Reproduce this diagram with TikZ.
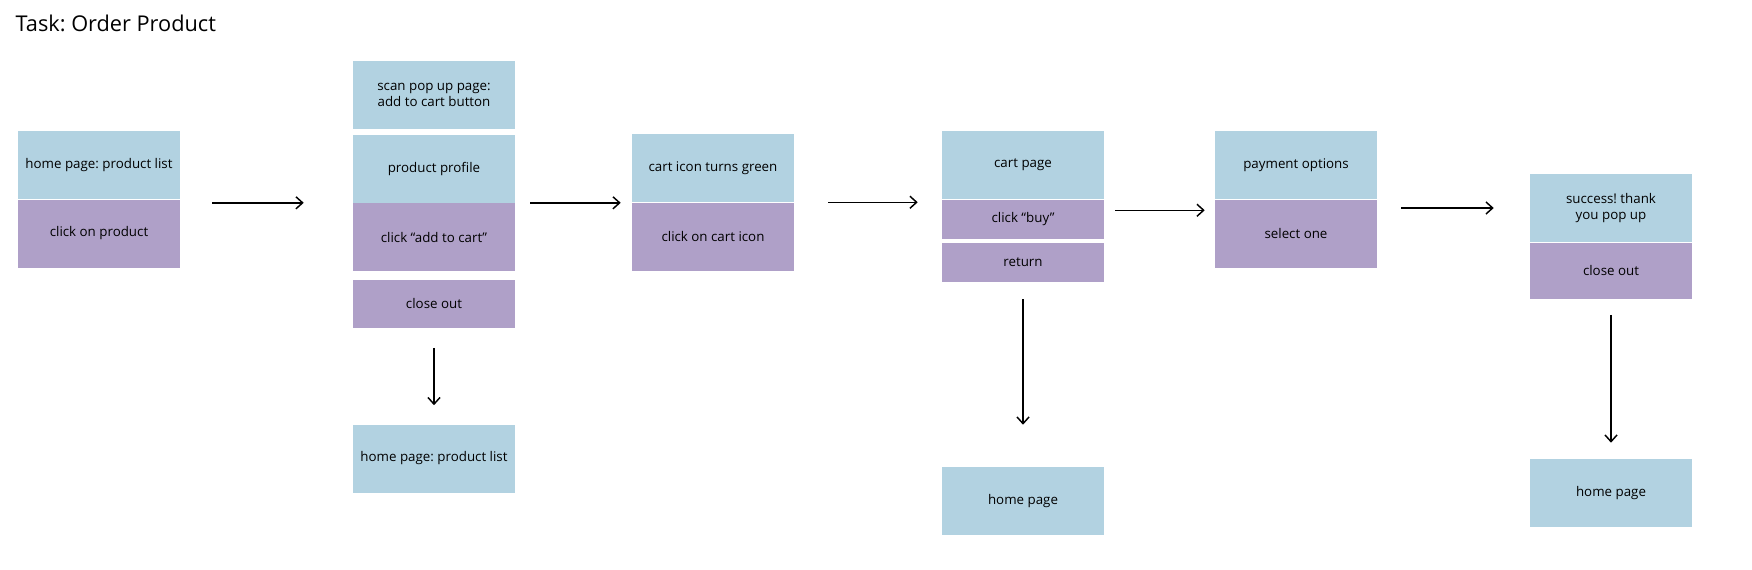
\documentclass[tikz,border=0pt]{standalone}
\usepackage{fontspec}
\setmainfont{Open Sans}
\usepackage{tikz}
\usetikzlibrary{positioning,arrows.meta}
\definecolor{pageblue}{HTML}{B2D2E1}
\definecolor{actionpurple}{HTML}{AFA0C8}
\tikzset{
  screen/.style={fill=pageblue, minimum width=121.5pt, minimum height=51pt, inner sep=0pt, align=center, font=\fontsize{10}{12.5}\selectfont},
  action/.style={screen, fill=actionpurple},
  flow/.style={-{Straight Barb[length=5pt,width=9pt]}, line width=1.1pt},
}
\frenchspacing

\begin{document}
\begin{tikzpicture}[x=0.75pt, y=-0.75pt]
\useasboundingbox (0,0) rectangle (1752,570);
\node[anchor=west, font=\fontsize{16.3}{19}\selectfont] (title) at (11,23) {Task: Order Product};

\node[screen] (home1) at (99,165) {home page: product list};
\node[action, below=0pt of home1] (click1) {click on product};

\node[screen] (scan) at (434,95) {scan pop up page:\\add to cart button};
\node[screen, below=3.75pt of scan] (profile) {product profile};
\node[action, below=0pt of profile] (addcart) {click “add to cart”};
\node[action, below=6pt of addcart, minimum height=36pt] (close2) {close out};
\node[screen] (home2) at (434,458.5) {home page: product list};

\node[screen] (icon) at (713,168) {cart icon turns green};
\node[action, below=0pt of icon] (iconclick) {click on cart icon};

\node[screen] (cartpage) at (1023,165) {cart page};
\node[action, below=0pt of cartpage, minimum height=29.25pt] (buy) {click “buy”};
\node[action, below=3pt of buy, minimum height=29.25pt] (return) {return};
\node[screen] (home4) at (1023,501) {home page};

\node[screen] (payment) at (1296,165) {payment options};
\node[action, below=0pt of payment] (select) {select one};

\node[screen] (success) at (1611,208) {success! thank\\you pop up};
\node[action, below=0pt of success, minimum height=42pt] (close6) {close out};
\node[screen] (home6) at (1611,493) {home page};

\draw[flow, shorten <=24pt, shorten >=36.75pt] (profile.south west -| home1.east) -- (profile.south west);
\draw[flow, shorten <=11.25pt, shorten >=8.25pt] (addcart.north east) -- (addcart.north east -| icon.west);
\draw[flow, shorten <=25.5pt, shorten >=18pt] (iconclick.north east) -- (iconclick.north east -| cartpage.west);
\draw[flow, shorten <=8.25pt, shorten >=7.5pt] ([yshift=-8.25pt]buy.north east) -- ([yshift=-8.25pt]select.north west);
\draw[flow, shorten <=18pt, shorten >=27pt] (success.west -| select.east) -- (success.west);

\draw[flow, shorten <=15pt, shorten >=14.25pt] (close2.south) -- (home2.north);
\draw[flow, shorten <=12.75pt, shorten >=31.5pt] (return.south) -- (home4.north);
\draw[flow, shorten <=12pt, shorten >=12pt] (close6.south) -- (home6.north);
\end{tikzpicture}
\end{document}
